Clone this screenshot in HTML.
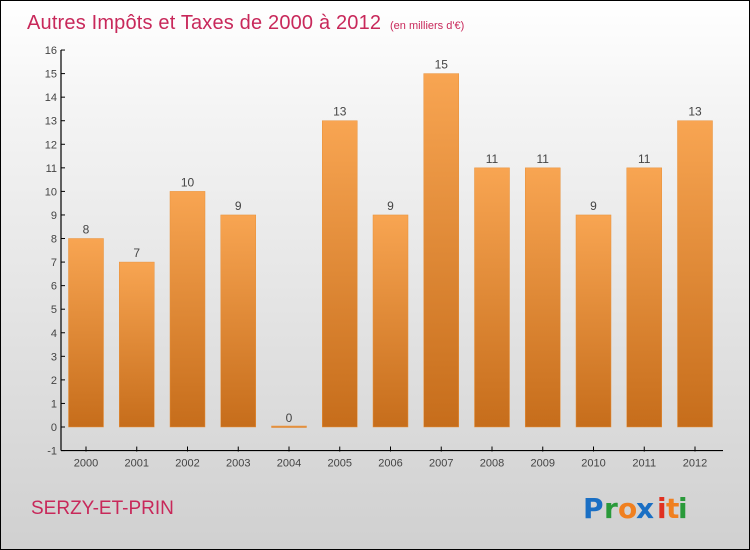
<!DOCTYPE html>
<html><head><meta charset="utf-8"><style>
html,body{margin:0;padding:0}
body{width:750px;height:550px;overflow:hidden;font-family:"Liberation Sans",sans-serif}
#wrap{position:relative;width:748px;height:548px;border:1px solid #000;background:linear-gradient(#ffffff,#f4f4f4 20%,#d0d0d0)}
</style></head><body>
<div id="wrap">
<svg id="chart" width="748" height="548" style="position:absolute;left:0;top:0">
<defs><linearGradient id="bg" x1="0" y1="0" x2="0" y2="1"><stop offset="0" stop-color="#f8a552"/><stop offset="1" stop-color="#c66d1b"/></linearGradient></defs>
<text x="26" y="28" font-size="20" fill="#c8285a" textLength="354">Autres Impôts et Taxes de 2000 à 2012</text>
<text x="389" y="28" font-size="11" fill="#c8285a">(en milliers d'€)</text>
<text x="30" y="513" font-size="19" fill="#c8285a">SERZY-ET-PRIN</text>
<g font-size="28" font-family="'DejaVu Sans',sans-serif" font-weight="bold">
<text x="582" y="517" fill="#1a6fc4">P</text><text x="603" y="517" fill="#2a9a3a">r</text><text x="617" y="517" fill="#f08020">o</text><text x="635" y="517" fill="#1a6fc4">x</text><text x="656" y="517" fill="#e03020">i</text><text x="665" y="517" fill="#f08020">t</text><text x="677" y="517" fill="#2a9a3a">i</text>
</g>
<g id="axes"></g><g id="bars"></g>
</svg>
</div>
<script>
const years=["2000","2001","2002","2003","2004","2005","2006","2007","2008","2009","2010","2011","2012"];
const values=[8,7,10,9,0,13,9,15,11,11,9,11,13];
const yTicks=[-1,0,1,2,3,4,5,6,7,8,9,10,11,12,13,14,15,16];
const ns="http://www.w3.org/2000/svg";
const y=v=>426-(v*23.56);
const x=i=>85+i*50.75;
function mk(t,a,p){const e=document.createElementNS(ns,t);for(const k in a)e.setAttribute(k,a[k]);p.appendChild(e);return e;}
const ax=document.getElementById('axes'),bs=document.getElementById('bars');
const yl=mk('line',{x1:60,y1:y(16),x2:60,y2:y(-1),stroke:'#000','stroke-width':1.2},ax);


const xl=mk('line',{x1:60,y1:y(-1),x2:722,y2:y(-1),stroke:'#000','stroke-width':1.2},ax);


yTicks.forEach(t=>{
 mk('line',{x1:60,y1:y(t),x2:64,y2:y(t),stroke:'#000'},ax);
 const tx=mk('text',{x:56,y:y(t)+4,'font-size':11,fill:'#444','text-anchor':'end'},ax);
 tx.textContent=t;
 
 
});
years.forEach((yr,i)=>{
 mk('line',{x1:x(i),y1:y(-1)-4,x2:x(i),y2:y(-1)+1,stroke:'#000'},ax);
 const tx=mk('text',{x:x(i),y:y(-1)+16,'font-size':11,fill:'#444','text-anchor':'middle'},ax);
 tx.textContent=yr;
 
 
 const v=values[i];
 const top=y(Math.max(v,0)),h=Math.max(Math.abs(y(v)-y(0)),1.5);
 const r=mk('rect',{x:x(i)-17.5,y:v>0?top:y(0)-1,width:35,height:h,fill:'url(#bg)',stroke:'#e8913a','stroke-width':0.5},bs);
 
 
 const lb=mk('text',{x:x(i),y:(v>0?top:y(0))-5,'font-size':12,fill:'#444','text-anchor':'middle'},bs);
 lb.textContent=v;
 
 
});
</script>
</body></html>
